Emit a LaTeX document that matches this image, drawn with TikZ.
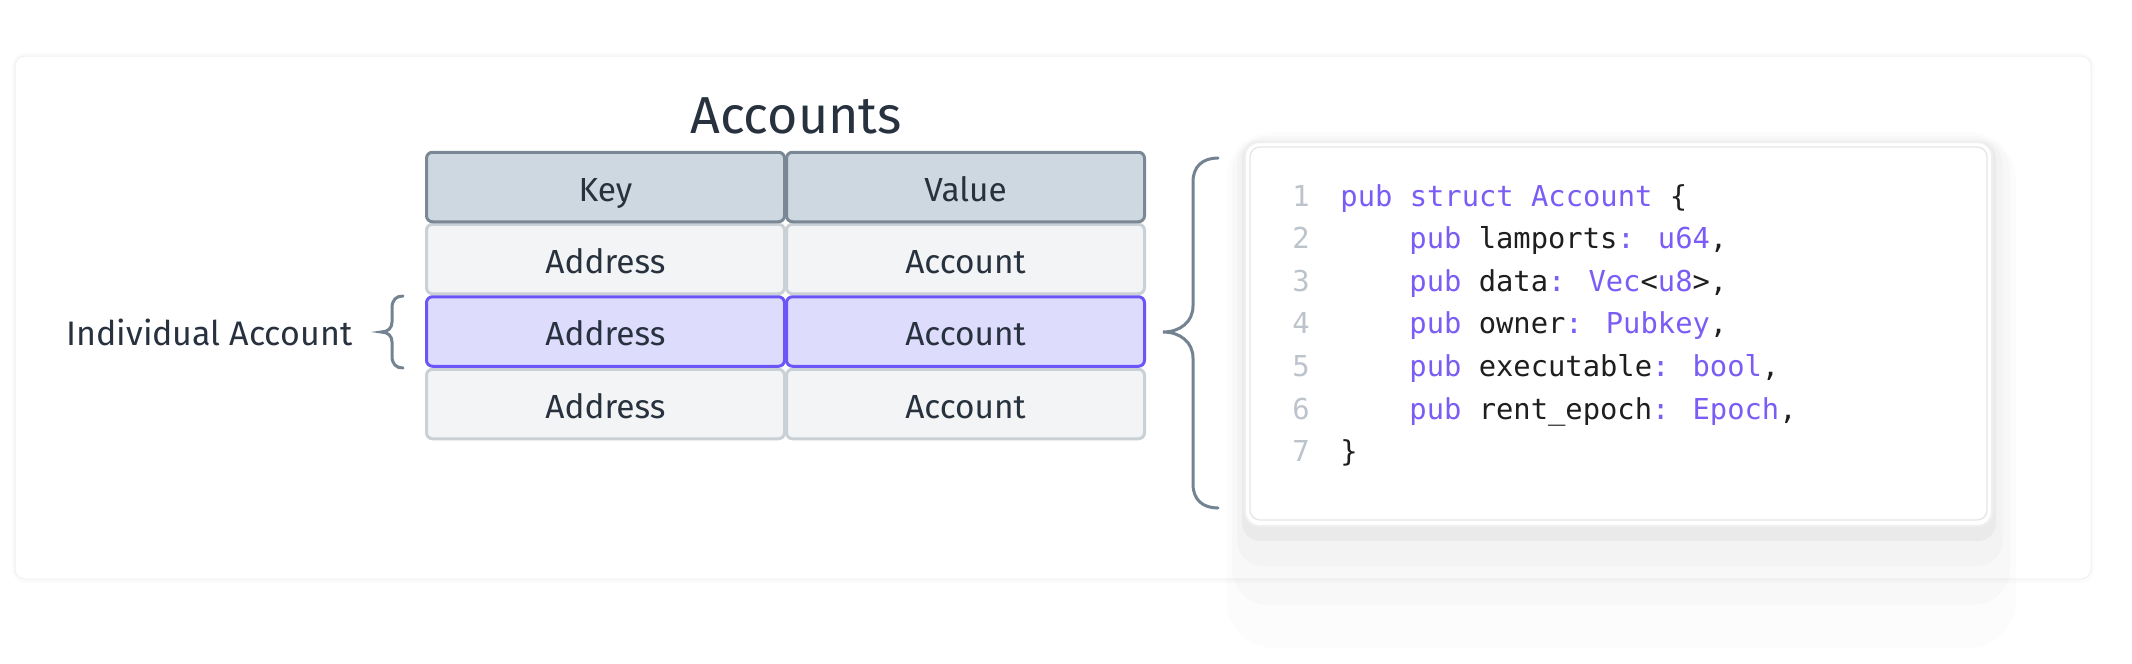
\documentclass[tikz,border=0pt]{standalone}
\usepackage{fontspec}
\setmainfont{Fira Sans}
\newfontfamily\codefont{DejaVu Sans Mono}
\definecolor{textdark}{HTML}{27323E}
\definecolor{headfill}{HTML}{CED8E1}
\definecolor{headline}{HTML}{7A8896}
\definecolor{rowfill}{HTML}{F3F4F6}
\definecolor{rowline}{HTML}{C9D0D6}
\definecolor{hlfill}{HTML}{DEDCFD}
\definecolor{hlline}{HTML}{6B55F7}
\definecolor{bracecol}{HTML}{748391}
\definecolor{codepurple}{HTML}{7B5CF5}
\definecolor{codeblack}{HTML}{1E1E1E}
\definecolor{lnum}{HTML}{BCC3CB}
\definecolor{panelline}{HTML}{F0F1F2}
\definecolor{cardline}{HTML}{E2E5E8}
\definecolor{ringcol}{HTML}{EDEFF1}
\newcommand\kw[1]{\textcolor{codepurple}{#1}}
\begin{document}
\begin{tikzpicture}[x=0.5pt,y=-0.5pt,
  cell/.style={rectangle, rounded corners=3pt, line width=1.5pt,
    minimum width=179pt, minimum height=34.75pt, inner sep=0pt,
    text height=14pt, text depth=0pt, text=textdark,
    font=\fontsize{16.7}{20}\selectfont},
  headcell/.style={cell, fill=headfill, draw=headline},
  rowcell/.style={cell, fill=rowfill, draw=rowline},
  hlcell/.style={cell, fill=hlfill, draw=hlline},
  codeline/.style={anchor=base west, inner sep=0pt, text=codeblack,
    font=\codefont\fontsize{14.4}{16}\selectfont},
  lnumber/.style={codeline, text=lnum},
  bracestyle/.style={draw=bracecol, line width=1.5pt, line cap=round},
  shadowlayer/.style={fill=black, draw=none}]
\useasboundingbox (0,0) rectangle (2132,664);
\fill[white] (0,0) rectangle (2132,664);

% outer panel
\fill[black, opacity=0.015, rounded corners=7pt] (12,53) rectangle (2094,583);
\draw[panelline, fill=white, line width=0.5pt, rounded corners=5pt] (15,56) rectangle (2091,579);

% card shadow layers
\fill[shadowlayer, opacity=0.012, rounded corners=24pt] (1226,132) rectangle (2016,648);
\fill[shadowlayer, opacity=0.014, rounded corners=18pt] (1232,136) rectangle (2010,605);
\fill[shadowlayer, opacity=0.02, rounded corners=13pt] (1237,139) rectangle (2003,566);
\fill[shadowlayer, opacity=0.035, rounded corners=9pt] (1242,141) rectangle (1996,541);
\draw[ringcol, fill=white, line width=1pt, rounded corners=7pt] (1245,142) rectangle (1992,526);
\node[draw=cardline, fill=white, line width=0.6pt, rounded corners=5pt,
  minimum width=368.5pt, minimum height=186.5pt, inner sep=0pt]
  (card) at (1618.5,333.5) {};

% title
\node[anchor=base, inner sep=0pt, text=textdark, font=\fontsize{26}{30}\selectfont]
  (title) at (796,133) {Accounts};

% table
\node[rowcell] (a1) at (605.5,259) {Address};
\node[rowcell] (c1) at (965.5,259) {Account};
\node[rowcell] (a3) at (605.5,404) {Address};
\node[rowcell] (c3) at (965.5,404) {Account};
\node[headcell] (k) at (605.5,187) {Key};
\node[headcell] (v) at (965.5,187) {Value};
\node[hlcell] (a2) at (605.5,331.5) {Address};
\node[hlcell] (c2) at (965.5,331.5) {Account};

% label
\node[anchor=base west, inner sep=0pt, text=textdark, font=\fontsize{17}{20}\selectfont]
  (label) at (66,345) {Individual Account};

% left brace
\draw[bracestyle] (403,296) .. controls (396,296) and (392,300) .. (392,308)
  -- (392,322) .. controls (392,328) and (388,332) .. (381,332)
  .. controls (388,332) and (392,336) .. (392,342)
  -- (392,356) .. controls (392,364) and (396,368) .. (403,368);

% right brace
\draw[bracestyle] (1218,158) .. controls (1203,158) and (1193,166) .. (1193,182)
  -- (1193,306) .. controls (1193,322) and (1180,332) .. (1163,332)
  .. controls (1180,332) and (1193,342) .. (1193,358)
  -- (1193,484) .. controls (1193,500) and (1203,508) .. (1218,508);

% code
\node[lnumber] (n1) at (1292,206) {1};
\node[lnumber] (n2) at (1292,248.6) {2};
\node[lnumber] (n3) at (1292,291.2) {3};
\node[lnumber] (n4) at (1292,333.8) {4};
\node[lnumber] (n5) at (1292,376.4) {5};
\node[lnumber] (n6) at (1292,419) {6};
\node[lnumber] (n7) at (1292,461.6) {7};
\node[codeline] (l1) at (1340,206) {\kw{pub struct Account} \{};
\node[codeline] (l2) at (1409,248.6) {\kw{pub} lamports\kw{: u64},};
\node[codeline] (l3) at (1409,291.2) {\kw{pub} data\kw{: Vec}<\kw{u8}>,};
\node[codeline] (l4) at (1409,333.8) {\kw{pub} owner\kw{: Pubkey},};
\node[codeline] (l5) at (1409,376.4) {\kw{pub} executable\kw{: bool},};
\node[codeline] (l6) at (1409,419) {\kw{pub} rent\_epoch\kw{: Epoch},};
\node[codeline] (l7) at (1340,461.6) {\}};
\end{tikzpicture}
\end{document}
